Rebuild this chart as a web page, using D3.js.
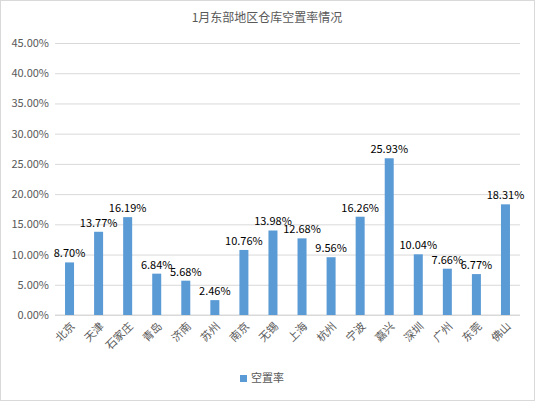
<!DOCTYPE html><html><head><meta charset="utf-8"><script src="https://cdn.jsdelivr.net/npm/d3@7"></script>
<style>body{margin:0;background:#fff}text{font-family:"Noto Sans CJK SC","DejaVu Sans",sans-serif}</style></head><body>
<svg id="c" width="535" height="401"></svg>
<script>
const categories=["北京","天津","石家庄","青岛","济南","苏州","南京","无锡","上海","杭州","宁波","嘉兴","深圳","广州","东莞","佛山"];
const values=[8.70,13.77,16.19,6.84,5.68,2.46,10.76,13.98,12.68,9.56,16.26,25.93,10.04,7.66,6.77,18.31];
const yTicks=[0,5,10,15,20,25,30,35,40,45];
const svg=d3.select("#c");
svg.append("rect").attr("x",0.5).attr("y",0.5).attr("width",534).attr("height",400).attr("fill","#fff").attr("stroke","#d9d9d9");
const L=55,R=520,T=43,B=315;
const x=d3.scaleBand().domain(categories).range([L,R]).paddingInner(0.69).paddingOuter(0.345);
const y=d3.scaleLinear().domain([0,45]).range([B,T]);
svg.append("text").attr("x",267).attr("y",22).attr("text-anchor","middle").attr("font-size",12).attr("fill","#595959").text("1月东部地区仓库空置率情况");
const ya=svg.append("g").attr("transform",`translate(${L},0)`).call(d3.axisLeft(y).tickValues(yTicks).tickSize(-(R-L)).tickFormat(d=>d.toFixed(2)+"%"));
ya.select(".domain").remove();
ya.selectAll("line").attr("stroke","#d9d9d9");
ya.selectAll("text").attr("fill","#595959").attr("font-size",11).attr("x",-6);
svg.append("line").attr("x1",L).attr("x2",R).attr("y1",B).attr("y2",B).attr("stroke","#d9d9d9");
svg.selectAll(".bar").data(values).join("rect").attr("x",(d,i)=>x(categories[i])).attr("width",x.bandwidth()).attr("y",d=>y(d)).attr("height",d=>B-y(d)).attr("fill","#5b9bd5");
svg.selectAll(".lab").data(values).join("text").attr("x",(d,i)=>x(categories[i])+x.bandwidth()/2).attr("y",d=>y(d)-5).attr("text-anchor","middle").attr("font-size",11).attr("fill","#000").text(d=>d.toFixed(2)+"%");
svg.selectAll(".cat").data(categories).join("text").attr("transform",d=>`translate(${x(d)+x.bandwidth()/2+6},${B+12}) rotate(-45)`).attr("text-anchor","end").attr("font-size",11).attr("fill","#595959").text(d=>d);
svg.append("rect").attr("x",240).attr("y",375).attr("width",7).attr("height",7).attr("fill","#5b9bd5");
svg.append("text").attr("x",251).attr("y",382).attr("font-size",11).attr("fill","#595959").text("空置率");
</script></body></html>
